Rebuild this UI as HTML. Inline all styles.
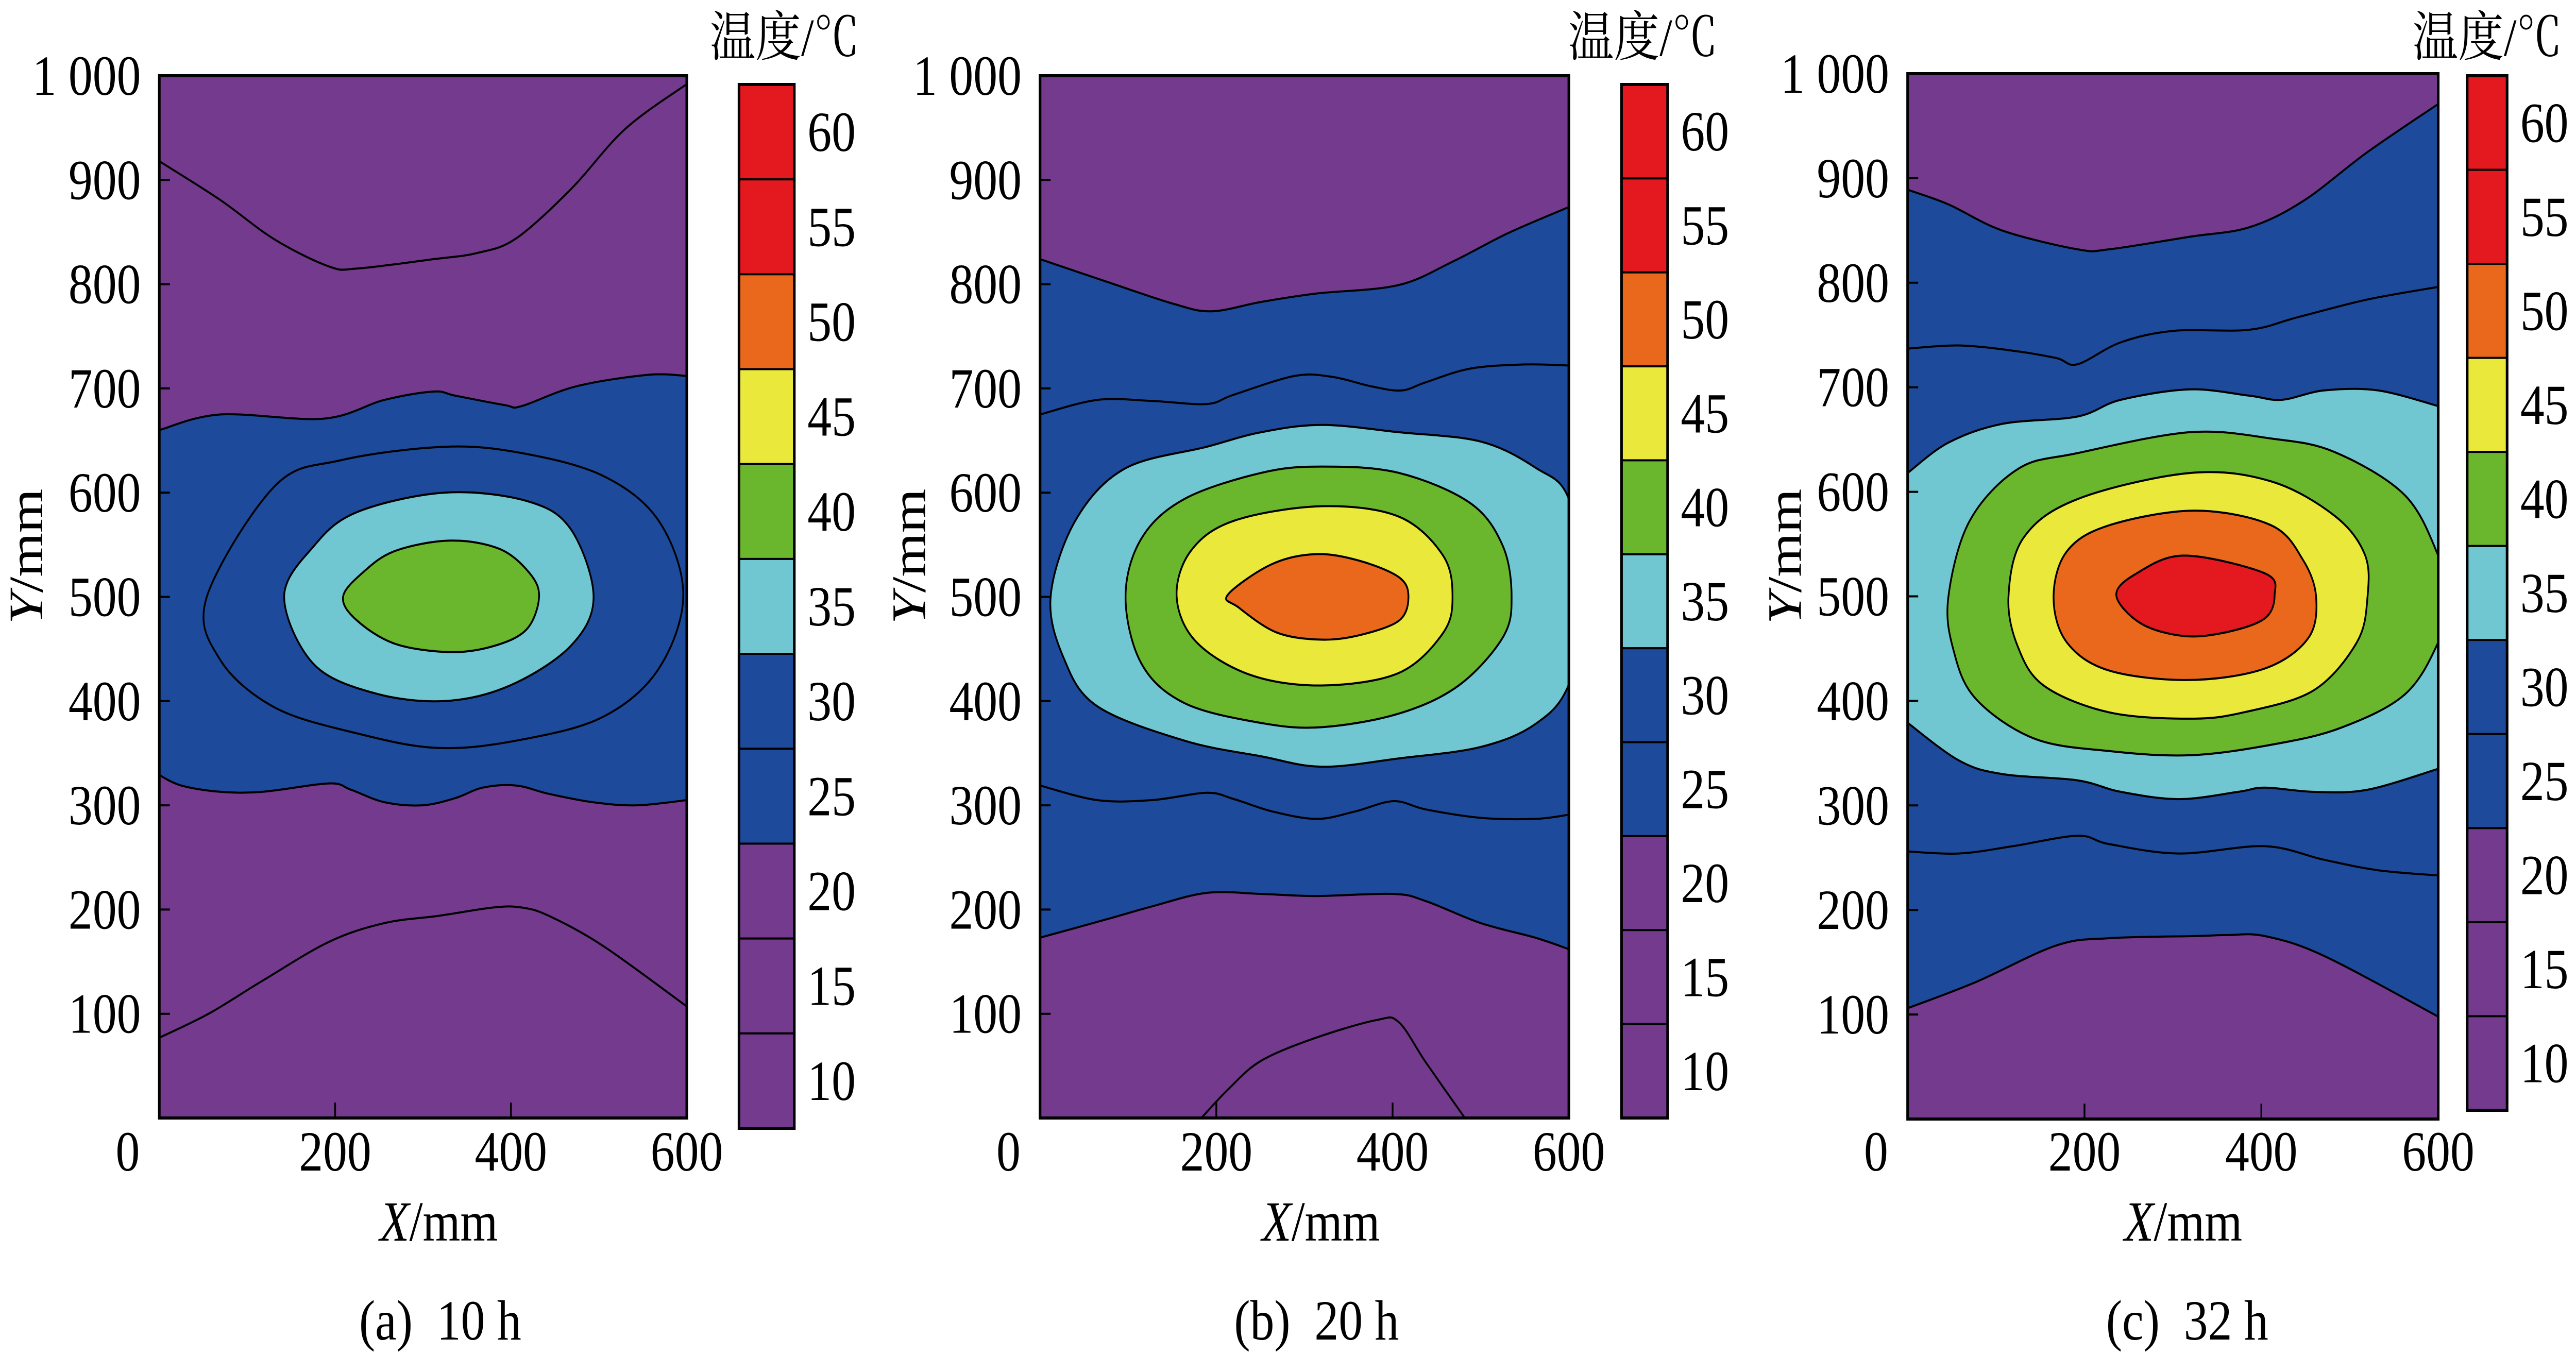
<!DOCTYPE html>
<html><head><meta charset="utf-8">
<style>
html,body{margin:0;padding:0;background:#fff;overflow:hidden;width:100%;height:100%;}
svg{display:block;width:100vw;height:100vh;}
text{font-family:"Liberation Serif","Noto Serif CJK SC",serif;fill:#000;}
</style></head>
<body>
<svg id="fig" xmlns="http://www.w3.org/2000/svg" viewBox="0 0 5870 2630" preserveAspectRatio="none"></svg>
<script>
// ---- data: contour lines in mm (x, y) ----
// panel (a) 10 h
const aTopLine=[[0,918],[69,881],[131,843],[193,817],[225,815],[312,824],[362,830],[406,844],[468,891],[530,949],[600,992]];
const aBlueUpper=[[0,660],[69,675],[187,671],[256,689],[312,697],[337,693],[393,684],[412,683],[474,702],[555,713],[600,712]];
const aBlueLower=[[0,329],[25,319],[69,313],[118,313],[193,321],[218,315],[256,303],[299,300],[337,307],[368,317],[406,319],[443,311],[493,303],[543,300],[600,305]];
const aInner30=[[54,500],[131,606],[206,631],[324,644],[412,638],[505,616],[568,573],[596,502],[568,431],[505,385],[412,363],[318,355],[225,369],[131,394],[69,440]];
const aCyan=[[142,500],[175,548],[224,581],[324,600],[418,592],[468,565],[494,500],[468,453],[399,415],[324,400],[243,408],[175,436]];
const aGreen=[[209,500],[231,523],[268,544],[331,554],[387,546],[421,523],[432,500],[418,469],[381,453],[331,447],[268,455],[224,478]];
const aBottomLine=[[0,77],[56,100],[118,132],[193,169],[256,187],[318,194],[380,202],[412,202],[443,194],[505,165],[600,107]];
// panel (b) 20 h
const bTopLine=[[0,824],[77,802],[152,781],[195,774],[251,783],[313,791],[406,799],[469,822],[531,849],[600,874]];
const bMidUpper=[[0,675],[65,689],[127,688],[189,685],[220,694],[289,712],[332,711],[376,702],[410,698],[438,706],[488,719],[550,723],[600,722]];
const bCyan=[[12,500],[40,573],[96,623],[189,644],[251,658],[320,665],[407,658],[500,649],[562,624],[600,594],[620,500],[600,416],[562,378],[500,356],[407,345],[320,337],[251,347],[164,362],[65,395],[27,441]];
const bGreen=[[97,500],[115,556],[164,594],[251,619],[320,625],[407,619],[488,590],[525,549],[535,500],[525,461],[475,415],[407,388],[320,375],[251,379],[164,398],[115,436]];
const bYellow=[[155,500],[171,544],[220,573],[320,587],[407,577],[457,540],[468,500],[457,465],[407,427],[320,415],[239,425],[177,457]];
const bOrange=[[213,502],[262,531],[312,541],[361,535],[407,519],[418,500],[407,477],[361,463],[317,459],[268,466],[225,490]];
const bMidLower=[[0,319],[65,305],[127,305],[189,312],[220,306],[264,294],[314,287],[357,294],[401,304],[438,296],[500,288],[562,287],[600,291]];
const bBlueBottom=[[0,173],[77,191],[127,203],[189,216],[251,215],[313,213],[401,215],[438,208],[500,187],[562,173],[600,162]];
const bBottomLine=[[183,0],[214,28],[251,55],[313,77],[382,94],[407,92],[438,53],[482,0]];
// panel (c) 32 h
const cTopLine=[[0,889],[46,875],[107,850],[192,832],[228,832],[319,844],[386,853],[447,878],[520,925],[600,971]];
const cMidUpper=[[0,737],[58,740],[119,735],[168,728],[192,722],[241,743],[301,754],[386,755],[441,767],[520,784],[600,796]];
const cCyanUpper=[[0,618],[46,647],[107,665],[192,672],[241,688],[319,698],[386,692],[423,688],[471,697],[532,697],[600,682]];
const cCyanLower=[[0,379],[58,343],[107,330],[192,324],[241,313],[307,306],[374,313],[404,317],[459,313],[520,315],[600,335]];
const cGreen=[[46,499],[70,572],[125,622],[192,637],[319,657],[411,651],[483,638],[562,597],[600,539],[612,498],[600,456],[562,406],[489,374],[411,358],[319,348],[228,352],[143,364],[77,402],[52,448]];
const cYellow=[[114,499],[131,556],[192,593],[319,618],[411,610],[483,577],[517,540],[520,499],[508,456],[459,410],[380,389],[319,383],[228,389],[155,414],[125,451]];
const cOrange=[[165,499],[180,543],[228,568],[325,582],[411,568],[447,535],[462,499],[453,460],[404,431],[319,420],[228,429],[180,456]];
const cRed=[[236,501],[259,522],[313,539],[404,522],[415,501],[404,479],[362,466],[313,462],[264,474]];
const cMidLower=[[0,256],[58,254],[119,261],[192,271],[228,263],[307,254],[404,261],[471,248],[532,238],[600,233]];
const cBlueBottom=[[0,106],[77,131],[168,166],[228,173],[325,175],[362,176],[404,175],[471,156],[600,98]];
// axes / colorbar
const yTickVals=[100,200,300,400,500,600,700,800,900,1000];
const yTickLabels=["100","200","300","400","500","600","700","800","900","1 000"];
const xTickVals=[200,400,600];
const xTickLabels=["200","400","600"];
const cbLabels=["60","55","50","45","40","35","30","25","20","15","10"];
const cbColorKeys=["red","red","orange","yellow","green","cyan","blue","blue","purple","purple","purple"];
const captions=["(a)  10 h","(b)  20 h","(c)  32 h"];

const C={purple:"#743A8D",blue:"#1D4A9B",cyan:"#70C6D1",green:"#6AB72D",yellow:"#EBE83C",orange:"#E9681C",red:"#E4181F"};
const NS="http://www.w3.org/2000/svg";
const svg=document.getElementById('fig');
function el(tag,attrs,parent){const e=document.createElementNS(NS,tag);for(const k in attrs)e.setAttribute(k,attrs[k]);(parent||svg).appendChild(e);return e;}

const panels=[
 {id:"a",x0:363,x1:1565,y0:147,y1:2170,cb:[1684,1810,164,2190],title:1788,ylab:58,xlab:1000,cap:1003},
 {id:"b",x0:2370,x1:3575,y0:147,y1:2170,cb:[3695,3800,164,2170],title:3744,ylab:2070,xlab:3010,cap:3000},
 {id:"c",x0:4347,x1:5556,y0:143,y1:2172,cb:[5622,5713,147,2155],title:5668,ylab:4066,xlab:4975,cap:4984}
];

function crPath(pts,closed){
 const n=pts.length;let d="M"+pts[0][0].toFixed(1)+","+pts[0][1].toFixed(1);
 const segs=closed?n:n-1;
 for(let i=0;i<segs;i++){
  const p0=pts[closed?(i-1+n)%n:Math.max(i-1,0)],p1=pts[i],p2=pts[(i+1)%n],p3=pts[closed?(i+2)%n:Math.min(i+2,n-1)];
  const c1=[p1[0]+(p2[0]-p0[0])/6,p1[1]+(p2[1]-p0[1])/6],c2=[p2[0]-(p3[0]-p1[0])/6,p2[1]-(p3[1]-p1[1])/6];
  d+="C"+c1[0].toFixed(1)+","+c1[1].toFixed(1)+" "+c2[0].toFixed(1)+","+c2[1].toFixed(1)+" "+p2[0].toFixed(1)+","+p2[1].toFixed(1);
 }
 if(closed)d+="Z";return d;
}

panels.forEach((P,pi)=>{
 const sx=v=>P.x0+v/600*(P.x1-P.x0), sy=v=>P.y1-v/1000*(P.y1-P.y0);
 const map=a=>a.map(p=>[sx(p[0]),sy(p[1])]);
 const g=el("g",{});
 
 
 const clip=el("clipPath",{id:"clip"+P.id},g);
 el("rect",{x:P.x0,y:P.y0,width:P.x1-P.x0,height:P.y1-P.y0},clip);
 const plot=el("g",{"clip-path":"url(#clip"+P.id+")"},g);
 
 
 const bg=el("rect",{x:P.x0,y:P.y0,width:P.x1-P.x0,height:P.y1-P.y0,fill:C.purple},plot);
 
 
 function band(up,low,color,name){
  const u=map(up),l=map(low).reverse();
  const d=crPath(u,false)+"L"+crPath(l,false).slice(1)+"Z";
  const p=el("path",{d:d,fill:color,stroke:"none"},plot);
  
  
 }
 function closed(pts,color,name){
  const p=el("path",{d:crPath(map(pts),true),fill:color,stroke:"#000","stroke-width":4},plot);
  
  
 }
 function line(pts,name){
  const p=el("path",{d:crPath(map(pts),false),fill:"none",stroke:"#000","stroke-width":4},plot);
  
  
 }
 if(P.id==="a"){
  band(aBlueUpper,aBlueLower,C.blue,"blue-band");
  closed(aInner30,C.blue,"contour-30");
  closed(aCyan,C.cyan,"cyan-region");
  closed(aGreen,C.green,"green-region");
  line(aTopLine,"contour-top");line(aBlueUpper,"contour-blue-upper");line(aBlueLower,"contour-blue-lower");line(aBottomLine,"contour-bottom");
 }else if(P.id==="b"){
  band(bTopLine,bBlueBottom,C.blue,"blue-band");
  closed(bCyan,C.cyan,"cyan-region");
  closed(bGreen,C.green,"green-region");
  closed(bYellow,C.yellow,"yellow-region");
  closed(bOrange,C.orange,"orange-region");
  line(bTopLine,"contour-top");line(bMidUpper,"contour-mid-upper");line(bMidLower,"contour-mid-lower");line(bBlueBottom,"contour-blue-bottom");line(bBottomLine,"contour-bottom");
 }else{
  band(cTopLine,cBlueBottom,C.blue,"blue-band");
  band(cCyanUpper,cCyanLower,C.cyan,"cyan-band");
  closed(cGreen,C.green,"green-region");
  closed(cYellow,C.yellow,"yellow-region");
  closed(cOrange,C.orange,"orange-region");
  closed(cRed,C.red,"red-region");
  line(cTopLine,"contour-top");line(cMidUpper,"contour-mid-upper");line(cCyanUpper,"contour-cyan-upper");line(cCyanLower,"contour-cyan-lower");line(cMidLower,"contour-mid-lower");line(cBlueBottom,"contour-blue-bottom");
 }
 yTickVals.forEach(v=>{const t=el("line",{x1:P.x0,x2:P.x0+24,y1:sy(v),y2:sy(v),stroke:"#000","stroke-width":4},g);
  });
 xTickVals.forEach(v=>{const t=el("line",{x1:sx(v),x2:sx(v),y1:P.y1,y2:P.y1-30,stroke:"#000","stroke-width":4},g);
  });
 const fr=el("rect",{x:P.x0,y:P.y0,width:P.x1-P.x0,height:P.y1-P.y0,fill:"none",stroke:"#000","stroke-width":6},g);
 
 yTickVals.forEach((v,i)=>{const t=el("text",{x:P.x0-42,y:sy(v)+37,"text-anchor":"end","font-size":110},g);t.textContent=yTickLabels[i];
  });
 const z=el("text",{x:P.x0-72,y:2272,"text-anchor":"middle","font-size":110},g);z.textContent="0";
 
 xTickVals.forEach((v,i)=>{const t=el("text",{x:sx(v),y:2272,"text-anchor":"middle","font-size":110},g);t.textContent=xTickLabels[i];
  });
 const xl=el("text",{x:P.xlab,y:2408,"text-anchor":"middle","font-size":110},g);
 xl.innerHTML='<tspan font-style="italic">X</tspan>/mm';
 
 const yl=el("text",{x:0,y:0,"text-anchor":"middle","font-size":110,transform:"translate("+(P.ylab+38)+",1080) rotate(-90)"},g);
 yl.innerHTML='<tspan font-style="italic">Y</tspan>/mm';
 
 const cap=el("text",{x:P.cap,y:2600,"text-anchor":"middle","font-size":110},g);
 cap.textContent=captions[pi];cap.setAttribute('style','white-space:pre');
 
 const [cx0,cx1,cy0,cy1]=P.cb, seg=(cy1-cy0)/cbLabels.length;
 const cbg=el("g",{},g);
 
 cbColorKeys.forEach((k,i)=>{const r=el("rect",{x:cx0,y:cy0+i*seg,width:cx1-cx0,height:seg,fill:C[k],stroke:"#000","stroke-width":4},cbg);
  
  const t=el("text",{x:cx1+30,y:cy0+(i+0.5)*seg+37,"font-size":110},cbg);t.textContent=cbLabels[i];
  });
 const cbf=el("rect",{x:cx0,y:cy0,width:cx1-cx0,height:cy1-cy0,fill:"none",stroke:"#000","stroke-width":6},cbg);
 
 const ct=el("text",{x:P.title,y:108,"text-anchor":"middle","font-size":104},g);
 ct.textContent="温度/℃";
 
});
</script>
</body></html>
